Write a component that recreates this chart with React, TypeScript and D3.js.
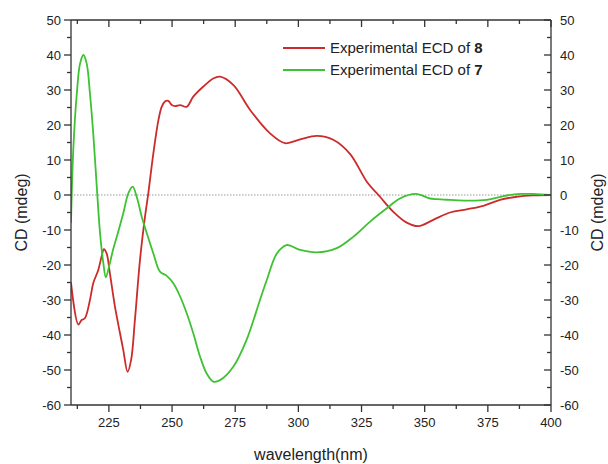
import React from 'react'
import * as d3 from 'd3'

// wavelength (nm) / CD (mdeg)
const ecd8Wavelength = [210, 212.9, 214.2, 215.5, 217.5, 218.8, 220.8, 222.1, 223, 224.1, 225.4, 227.4, 229.4, 230.7, 232.4, 233.8, 235.3, 237.3, 239.3, 240.6, 242.6, 244.6, 245.9, 247.2, 248.5, 249.9, 251.2, 253.2, 255.8, 258.4, 262.4, 266.3, 269, 274.3, 280.9, 288.8, 294.7, 300.7, 307.3, 313.8, 320.5, 327.1, 332.3, 337.6, 342.9, 347.5, 353.4, 360, 366.6, 373.2, 379.8, 386.4, 393, 400]
const ecd8Values = [-25, -37, -35.7, -35.2, -30, -25.2, -21.4, -17.6, -15.5, -16.7, -22.4, -31.9, -39.5, -44.3, -50.5, -47.1, -35.7, -18.6, -6.2, 0.5, 11.9, 21.4, 25.2, 26.7, 26.9, 25.7, 25.4, 25.7, 25.2, 28.1, 31, 33.3, 33.8, 31.4, 24.3, 17.6, 14.8, 15.9, 16.9, 15.8, 11.7, 3.8, -0.5, -4.8, -7.9, -8.9, -7.1, -5, -4.1, -3.1, -1.4, -0.5, -0.1, 0]

const ecd7Wavelength = [210, 210.9, 212.3, 213.6, 214.9, 216.2, 217.5, 218.8, 220.2, 221.5, 222.8, 223.8, 225.2, 226.7, 228.7, 230.7, 232.7, 234.4, 236, 238, 240, 242.6, 245.2, 247.9, 250.5, 253.2, 255.8, 258.4, 261.1, 263.7, 266.3, 269, 274.3, 279.5, 284.8, 287.5, 291.5, 295.4, 300.7, 307.3, 315.2, 321.8, 328.4, 335, 340.2, 346.5, 352.1, 354.8, 360, 366.6, 374.6, 381.2, 387.8, 393, 400]
const ecd7Values = [-8, 12.9, 29, 37.6, 40, 37.6, 29, 17.6, 2.4, -10.9, -19.5, -23.5, -20, -15.5, -10.5, -5.2, 0.5, 2.4, -0.5, -6.2, -10.9, -16.7, -21.9, -23.1, -25.2, -29, -33.8, -39.5, -46.2, -51, -53.3, -52.9, -49, -41.4, -30, -24.3, -16.7, -14.3, -15.7, -16.4, -15.2, -11.9, -7.6, -3.8, -1, 0.3, -1, -1.2, -1.4, -1.6, -1.4, -0.3, 0.3, 0.3, 0]

const xTicks = [225, 250, 275, 300, 325, 350, 375, 400]
const yTicks = [50, 40, 30, 20, 10, 0, -10, -20, -30, -40, -50, -60]

const seriesNames = ['8', '7']
const seriesColors = ['#cc2b2b', '#3ec232']

const W = 608
const H = 464
const margin = { left: 71, right: 57, top: 20, bottom: 59 }
const font = '"Liberation Sans", Arial, sans-serif'
const axisColor = '#333'

export default function App() {
  const x = d3.scaleLinear().domain([210, 400]).range([margin.left, W - margin.right])
  const y = d3.scaleLinear().domain([-60, 50]).range([H - margin.bottom, margin.top])
  const [x0, x1] = x.range()
  const [y0, y1] = y.range()

  const line = d3.line<[number, number]>()
    .x(d => x(d[0]))
    .y(d => y(d[1]))
    .curve(d3.curveCatmullRom.alpha(0.5))

  const series = [
    d3.zip(ecd8Wavelength, ecd8Values) as [number, number][],
    d3.zip(ecd7Wavelength, ecd7Values) as [number, number][],
  ]

  const minorX = d3.range(212.5, 400, 12.5).filter(v => v % 25 !== 0)
  const allX = d3.range(212.5, 400.1, 12.5)
  const minorY = d3.range(-55, 50, 10)

  return (
    <svg width={W} height={H} style={{ position: 'absolute', left: 0, top: 0, background: '#fff' }}>
      <defs>
        <clipPath id="plot">
          <rect x={x0} y={y1} width={x1 - x0} height={y0 - y1} />
        </clipPath>
      </defs>

      {/* zero line */}
      <line x1={x0} x2={x1} y1={y(0)} y2={y(0)} stroke="#999" strokeWidth={1} strokeDasharray="1.5,1.5" />

      <g clipPath="url(#plot)">
        {series.map((s, i) => (
          <path key={i} d={line(s) ?? ''} fill="none" stroke={seriesColors[i]} strokeWidth={1.8} />
        ))}
      </g>

      {/* frame */}
      <g stroke={axisColor} strokeWidth={1.3} fill="none">
        <line x1={x0} x2={x1} y1={y0} y2={y0} />
        <line x1={x0} x2={x1} y1={y1} y2={y1} />
        <line x1={x0} x2={x0} y1={y0} y2={y1} />
        <line x1={x1} x2={x1} y1={y0} y2={y1} />
        {xTicks.map(t => <line key={'bx' + t} x1={x(t)} x2={x(t)} y1={y0} y2={y0 + 7} />)}
        {minorX.map(t => <line key={'bm' + t} x1={x(t)} x2={x(t)} y1={y0} y2={y0 + 4} />)}
        {allX.map(t => <line key={'tx' + t} x1={x(t)} x2={x(t)} y1={y1} y2={y1 + (t % 25 === 0 ? 7 : 4)} />)}
        {yTicks.map(t => <line key={'ly' + t} x1={x0 - 7} x2={x0} y1={y(t)} y2={y(t)} />)}
        {minorY.map(t => <line key={'lm' + t} x1={x0 - 4} x2={x0} y1={y(t)} y2={y(t)} />)}
        {yTicks.map(t => <line key={'ry' + t} x1={x1 - 7} x2={x1} y1={y(t)} y2={y(t)} />)}
        {minorY.map(t => <line key={'rm' + t} x1={x1 - 4} x2={x1} y1={y(t)} y2={y(t)} />)}
      </g>

      <g fontFamily={font} fontSize={13} fill="#222">
        {xTicks.map(t => (
          <text key={'xl' + t} x={x(t)} y={y0 + 22} textAnchor="middle">{t}</text>
        ))}
        {yTicks.map(t => (
          <text key={'yl' + t} x={x0 - 10} y={y(t) + 4.5} textAnchor="end">{t}</text>
        ))}
        {yTicks.map(t => (
          <text key={'yr' + t} x={x1 + 9} y={y(t) + 4.5} textAnchor="start">{t}</text>
        ))}
      </g>

      <g fontFamily={font} fontSize={16} fill="#222">
        <text x={(x0 + x1) / 2} y={H - 4} textAnchor="middle">wavelength(nm)</text>
        <text transform={`translate(27,${(y0 + y1) / 2}) rotate(-90)`} textAnchor="middle">CD (mdeg)</text>
        <text transform={`translate(${W - 5},${(y0 + y1) / 2}) rotate(-90)`} textAnchor="middle">CD (mdeg)</text>
      </g>

      {/* legend */}
      <g fontFamily={font} fontSize={15} fill="#222">
        {seriesNames.map((n, i) => (
          <g key={n} transform={`translate(283,${48 + i * 22})`}>
            <line x1={0} x2={42} y1={0} y2={0} stroke={seriesColors[i]} strokeWidth={1.8} />
            <text x={47} y={5}>Experimental ECD of <tspan fontWeight="bold">{n}</tspan></text>
          </g>
        ))}
      </g>
    </svg>
  )
}
